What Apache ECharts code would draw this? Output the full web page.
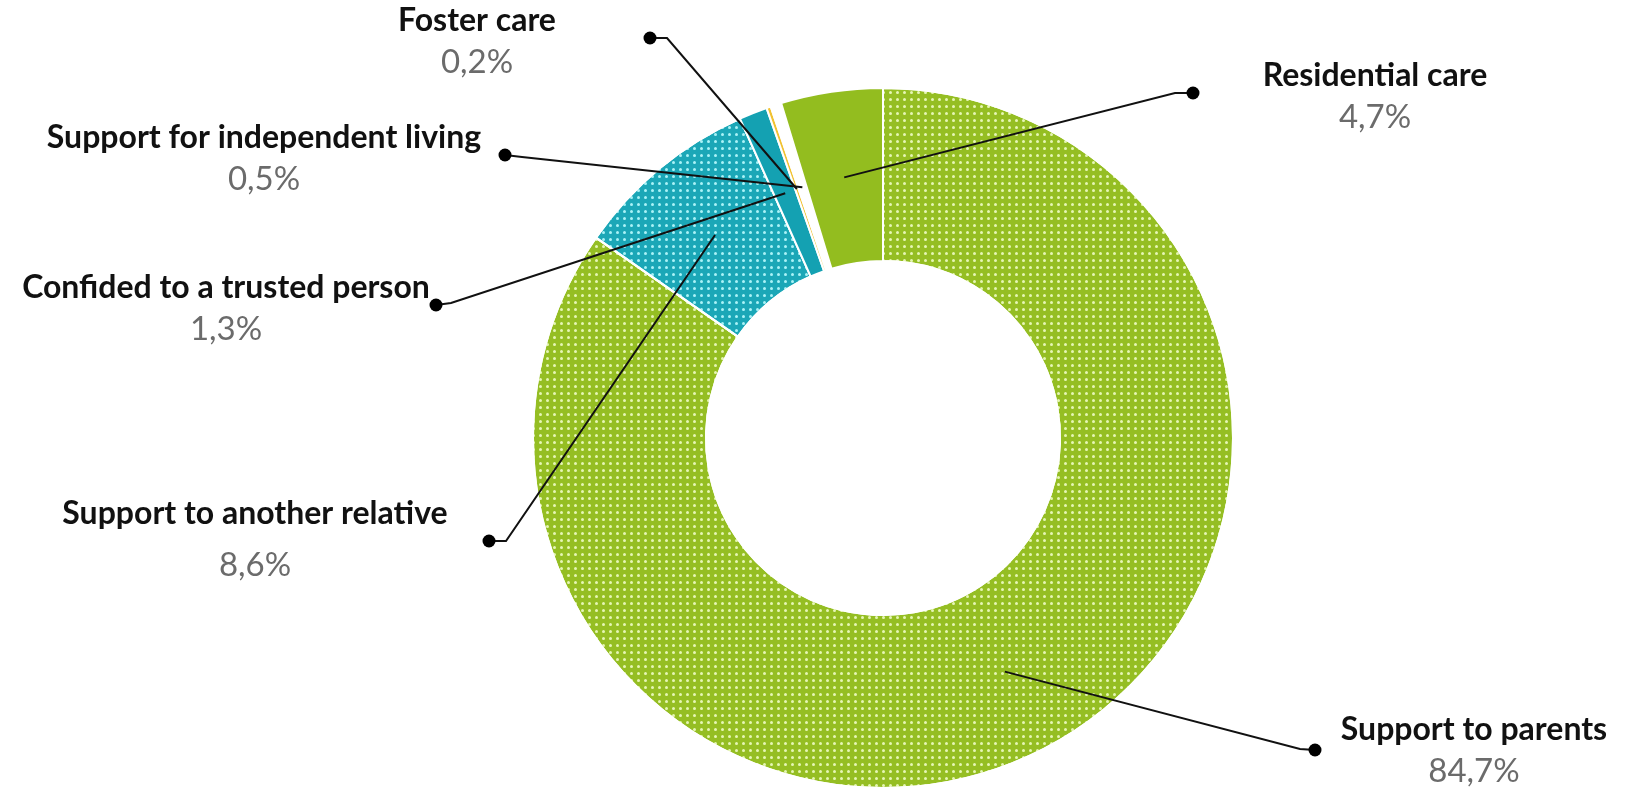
<!DOCTYPE html>
<html><head><meta charset="utf-8">
<script src="https://cdn.jsdelivr.net/npm/echarts@6/dist/echarts.min.js"></script>
<style>html,body{margin:0;padding:0;background:#fff}#c{width:1632px;height:790px}</style>
</head><body><div id="c"></div>
<script>
// ---- data ----
const categories = ['Support to parents', 'Support to another relative', 'Confided to a trusted person', 'Foster care', 'Support for independent living', 'Residential care'];
const shares = [84.7, 8.6, 1.3, 0.2, 0.5, 4.7];

// ---- presentation ----
const sliceColors = ['#95be23', '#1ba7b7', '#14a1b2', '#f1c232', '#ffffff', '#93bd1f'];
const decalColors = ['rgba(238,252,196,0.9)', 'rgba(178,246,250,0.95)', null, null, null, null];
const labelPos = [[1474, 751], [255, 545], [226, 309], [477, 42], [264, 159], [1375, 97]];
const dotPos = [[1315, 750], [489, 541], [436, 305], [650, 38], [505, 155], [1193, 93]];
const bendOff = [[-15, -1], [17, 0], [15, -2], [17, 0], [17, 2], [-18, 0]];
const bigGap = [false, true, false, false, false, false];

const fmt = v => v.toFixed(1).replace('.', ',') + '%';
const CENTER = [883, 438];

const pieData = categories.map((name, i) => {
  const item = { name, value: shares[i], itemStyle: { color: sliceColors[i] } };
  if (decalColors[i]) {
    item.itemStyle.decal = { symbol: 'circle', symbolSize: 1, dashArrayX: [2.3, 3.2], dashArrayY: [2.3, 3.2], color: decalColors[i], rotation: 0 };
  }
  return item;
});
const guideData = categories.map((name, i) => ({ name, value: shares[i] }));

const chart = echarts.init(document.getElementById('c'));
chart.setOption({
  backgroundColor: '#fff',
  animation: false,
  series: [
    {
      type: 'pie',
      center: CENTER,
      radius: [177, 350],
      startAngle: 90,
      clockwise: true,
      silent: true,
      data: pieData,
      itemStyle: { borderColor: '#fff', borderWidth: 2 },
      label: {
        show: true,
        width: 560,
        overflow: 'none',
        align: 'center',
        formatter: p => '{n|' + p.name + '}\n{' + (bigGap[p.dataIndex] ? 'w' : 'v') + '|' + fmt(p.value) + '}',
        rich: {
          n: { fontFamily: 'Lato', fontWeight: 'bold', fontSize: 32, color: '#111', lineHeight: 40, align: 'center' },
          v: { fontFamily: 'Lato', fontSize: 33, color: '#6b6b6b', lineHeight: 43, align: 'center' },
          w: { fontFamily: 'Lato', fontSize: 33, color: '#6b6b6b', lineHeight: 62, align: 'center' }
        }
      },
      labelLine: { show: false },
      labelLayout: p => ({ x: labelPos[p.dataIndex][0], y: labelPos[p.dataIndex][1], align: 'center', verticalAlign: 'middle' })
    },
    {
      type: 'pie',
      center: CENTER,
      radius: [0, 263.5],
      startAngle: 90,
      clockwise: true,
      silent: true,
      z: 5,
      data: guideData,
      itemStyle: { color: 'rgba(0,0,0,0)', borderWidth: 0 },
      label: {
        show: true,
        position: 'outside',
        formatter: '{d| }',
        rich: { d: { width: 13, height: 13, borderRadius: 6.5, backgroundColor: '#000', fontSize: 1 } }
      },
      labelLine: { show: true, length: 10, length2: 10, lineStyle: { color: '#111', width: 2 } },
      labelLayout: p => {
        const i = p.dataIndex;
        const start = p.labelLinePoints ? p.labelLinePoints[0].slice() : CENTER.slice();
        const d = dotPos[i];
        return {
          x: d[0], y: d[1], align: 'center', verticalAlign: 'middle',
          labelLinePoints: [start, [d[0] + bendOff[i][0], d[1] + bendOff[i][1]], d.slice()]
        };
      }
    }
  ]
});
</script></body></html>
